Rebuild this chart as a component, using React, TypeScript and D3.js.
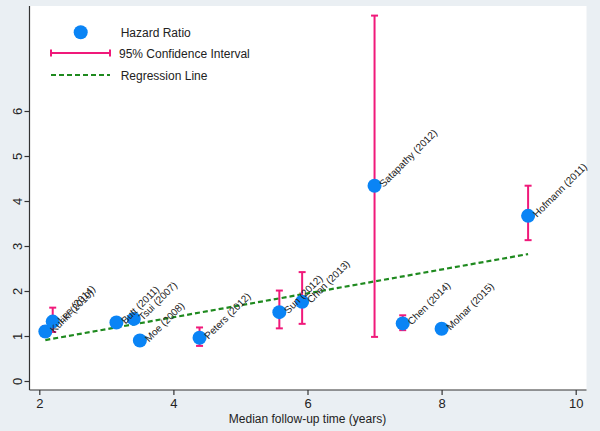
import {useEffect, useRef} from "react";
import * as d3 from "d3";

// Study data
const studies = [
    "Kuriki (2010)", "Lee (2014)", "Butt (2011)", "Tsui (2007)", "Moe (2008)",
    "Peters (2012)", "Sun (2012)", "Chen (2013)", "Satapathy (2012)",
    "Chen (2014)", "Molnar (2015)", "Hofmann (2011)"
];
const followUp = [2.09, 2.2, 3.15, 3.41, 3.5, 4.39, 5.58, 5.92, 7.0, 7.42, 8.0, 9.29];
const hazardRatio = [1.1, 1.32, 1.3, 1.38, 0.9, 0.96, 1.53, 1.76, 4.34, 1.28, 1.16, 3.67];
const ciLower = [1.0, 1.09, null, null, null, 0.78, 1.17, 1.27, 0.98, 1.13, null, 3.13];
const ciUpper = [1.22, 1.63, null, null, null, 1.19, 2.01, 2.42, 8.12, 1.46, null, 4.34];

// regression line endpoints
const regX = [2.09, 9.29];
const regY = [0.91, 2.82];

const xTicks = [2, 4, 6, 8, 10];
const yTicks = [0, 1, 2, 3, 4, 5, 6];

const legendItems = ["Hazard Ratio", "95% Confidence Interval", "Regression Line"];

const BLUE = "#0a84f5";
const PINK = "#f0197a";
const GREEN = "#1f8a1f";
const FONT = "'Liberation Sans', Arial, sans-serif";

const App = () => {
    const svgRef = useRef<SVGSVGElement>(null);

    useEffect(() => {
        document.body.style.margin = "0";
        const width = 600, height = 431;
        const left = 29.5, right = 586.5, top = 6, bottom = 390;

        const svg = d3.select(svgRef.current);
        svg.selectAll("*").remove();

        const x = d3.scaleLinear().domain([2, 10]).range([39.3, 575.7]);
        const y = d3.scaleLinear().domain([0, 6]).range([381, 111]);

        svg.append("rect").attr("width", width).attr("height", height).attr("fill", "#eaeff3");
        svg.append("rect")
            .attr("x", left).attr("y", top)
            .attr("width", right - left).attr("height", bottom - top)
            .attr("fill", "#ffffff");

        // axes
        const xAxis = svg.append("g").attr("transform", `translate(0,${bottom})`)
            .call(d3.axisBottom(x).tickValues(xTicks).tickFormat(d3.format("d")).tickSize(5).tickPadding(4).tickSizeOuter(0));
        xAxis.select(".domain").attr("d", `M${left},0H${right}`);
        const yAxis = svg.append("g").attr("transform", `translate(${left},0)`)
            .call(d3.axisLeft(y).tickValues(yTicks).tickFormat(d3.format("d")).tickSize(5).tickSizeOuter(0));
        yAxis.select(".domain").attr("d", `M0,${top}V${bottom}`);

        [xAxis, yAxis].forEach(g => {
            g.selectAll("path, line").attr("stroke", "#333").attr("stroke-width", 1.2);
            g.selectAll("text").attr("fill", "#222").style("font-family", FONT).style("font-size", "13px");
        });
        yAxis.selectAll("text")
            .attr("x", 0).attr("dy", 0)
            .attr("text-anchor", "middle")
            .attr("transform", "translate(-12,0) rotate(-90)")
            .attr("y", 4.5);

        svg.append("text")
            .attr("x", (x(2) + x(10)) / 2).attr("y", 423)
            .attr("text-anchor", "middle")
            .style("font-family", FONT).style("font-size", "12px")
            .attr("fill", "#222")
            .text("Median follow-up time (years)");

        // regression line
        svg.append("line")
            .attr("x1", x(regX[0])).attr("y1", y(regY[0]))
            .attr("x2", x(regX[1])).attr("y2", y(regY[1]))
            .attr("stroke", GREEN).attr("stroke-width", 2.2)
            .attr("stroke-dasharray", "5,3");

        // confidence intervals
        const ci = svg.append("g").attr("stroke", PINK).attr("stroke-width", 2);
        followUp.forEach((fx, i) => {
            const lo = ciLower[i], hi = ciUpper[i];
            if (lo == null || hi == null) return;
            const cx = x(fx);
            ci.append("line").attr("x1", cx).attr("x2", cx).attr("y1", y(lo)).attr("y2", y(hi));
            ci.append("line").attr("x1", cx - 3.5).attr("x2", cx + 3.5).attr("y1", y(lo)).attr("y2", y(lo));
            ci.append("line").attr("x1", cx - 3.5).attr("x2", cx + 3.5).attr("y1", y(hi)).attr("y2", y(hi));
        });

        // points
        svg.append("g").selectAll("circle")
            .data(followUp)
            .join("circle")
            .attr("cx", d => x(d))
            .attr("cy", (_, i) => y(hazardRatio[i]))
            .attr("r", 7)
            .attr("fill", BLUE);

        // labels
        svg.append("g").selectAll("text")
            .data(studies)
            .join("text")
            .attr("transform", (_, i) => `translate(${x(followUp[i]) + 9},${y(hazardRatio[i]) + 2}) rotate(-45)`)
            .style("font-family", FONT).style("font-size", "10px")
            .attr("fill", "#222")
            .text(d => d);

        // legend
        const lg = svg.append("g").style("font-family", FONT).style("font-size", "12px").attr("fill", "#222");
        lg.append("circle").attr("cx", 80.7).attr("cy", 32.3).attr("r", 7).attr("fill", BLUE);
        const ly = 53;
        lg.append("line").attr("x1", 51).attr("x2", 110).attr("y1", ly).attr("y2", ly).attr("stroke", PINK).attr("stroke-width", 2);
        lg.append("line").attr("x1", 51).attr("x2", 51).attr("y1", ly - 3.5).attr("y2", ly + 3.5).attr("stroke", PINK).attr("stroke-width", 2);
        lg.append("line").attr("x1", 110).attr("x2", 110).attr("y1", ly - 3.5).attr("y2", ly + 3.5).attr("stroke", PINK).attr("stroke-width", 2);
        lg.append("line").attr("x1", 51).attr("x2", 110).attr("y1", 75).attr("y2", 75)
            .attr("stroke", GREEN).attr("stroke-width", 2).attr("stroke-dasharray", "5,3");
        const legendX = [120.7, 119, 120.7];
        const legendY = [37, 58, 80];
        legendItems.forEach((t, i) => {
            lg.append("text").attr("x", legendX[i]).attr("y", legendY[i]).text(t);
        });
    }, []);

    return <svg ref={svgRef} width={600} height={431} style={{display: "block"}} />;
};

export default App;
